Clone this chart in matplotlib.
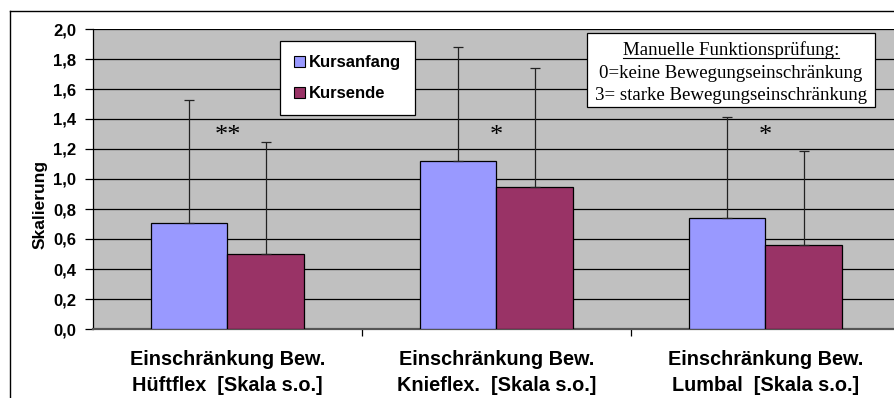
import matplotlib
matplotlib.use("Agg")
import matplotlib.pyplot as plt
from matplotlib.patches import Rectangle, Patch
from matplotlib.lines import Line2D
from matplotlib.ticker import FuncFormatter, MultipleLocator
import numpy as np

categories = [
    "Einschränkung Bew.\nHüftflex  [Skala s.o.]",
    "Einschränkung Bew.\nKnieflex.  [Skala s.o.]",
    "Einschränkung Bew.\nLumbal  [Skala s.o.]",
]
kursanfang = [0.71, 1.12, 0.74]
kursende = [0.50, 0.95, 0.56]
kursanfang_sd = [0.82, 0.76, 0.67]
kursende_sd = [0.75, 0.79, 0.63]
significance = ["**", "*", "*"]
significance_y = [1.29, 1.29, 1.29]
series_names = ["Kursanfang", "Kursende"]
note_lines = [
    "Manuelle Funktionsprüfung:",
    "0=keine Bewegungseinschränkung",
    "3= starke Bewegungseinschränkung",
]

W, H = 895, 398
fig = plt.figure(figsize=(W / 100, H / 100), dpi=100)
fig.patch.set_facecolor("white")

def fx(px):
    return px / W

def fy(py):
    return 1 - py / H

ax = fig.add_axes([fx(93), fy(329), fx(900) - fx(93), fy(29) - fy(329)])
ax.set_facecolor("#C0C0C0")

x = np.arange(len(categories))
bw = 0.286
blue = "#9999FF"
red = "#993366"

ax.bar(x - bw / 2, kursanfang, width=bw, color=blue, edgecolor="black", linewidth=0.9, zorder=3)
ax.bar(x + bw / 2, kursende, width=bw, color=red, edgecolor="black", linewidth=0.9, zorder=3)
err_kw = dict(fmt="none", ecolor="#222222", elinewidth=0.9, capsize=3.5, capthick=0.9, zorder=4)
ax.errorbar(x - bw / 2, kursanfang, yerr=[np.zeros(3), kursanfang_sd], **err_kw)
ax.errorbar(x + bw / 2, kursende, yerr=[np.zeros(3), kursende_sd], **err_kw)

for xi, s, sy in zip(x, significance, significance_y):
    ax.text(xi, sy, s, ha="center", va="center", fontsize=19,
            family="Liberation Serif", color="black", zorder=5)

ax.set_xlim(-0.5, 2.5)
ax.set_ylim(0, 2.0)
ax.yaxis.set_major_locator(MultipleLocator(0.2))
ax.yaxis.set_major_formatter(FuncFormatter(lambda v, p: f"{v:.1f}".replace(".", ",")))
ax.grid(axis="y", color="black", linewidth=0.9, zorder=1)
ax.set_axisbelow(True)

ax.set_xticks([0.5, 1.5])
ax.set_xticklabels([])
ax.tick_params(axis="x", direction="out", length=5, width=0.9, color="black")
ax.set_xticks(x, minor=True)
ax.set_xticklabels(categories, minor=True, fontsize=14.3, fontweight="bold",
                   family="Liberation Sans", linespacing=1.45)
ax.tick_params(axis="x", which="minor", length=0, pad=15)
ax.tick_params(axis="y", direction="out", length=6, width=0.9, pad=6)
for lab in ax.get_yticklabels():
    lab.set_fontsize(12)
    lab.set_fontweight("bold")
    lab.set_family("Liberation Sans")

for side in ("top", "right"):
    ax.spines[side].set_visible(False)
ax.spines["left"].set_color("black")
ax.spines["left"].set_linewidth(0.9)
ax.spines["bottom"].set_color("#555555")
ax.spines["bottom"].set_linewidth(1.6)

fig.text(fx(40), fy(204), "Skalierung", rotation=90, ha="center", va="center",
         fontsize=12.5, fontweight="bold", family="Liberation Sans")

# legend
handles = [Patch(facecolor=blue, edgecolor="black", linewidth=0.8),
           Patch(facecolor=red, edgecolor="black", linewidth=0.8)]
leg = fig.legend(handles, series_names, loc="upper left",
                 bbox_to_anchor=(fx(280), fy(41)), bbox_transform=fig.transFigure,
                 prop={"family": "Liberation Sans", "weight": "bold", "size": 12},
                 frameon=True, fancybox=False, shadow=False, framealpha=1,
                 edgecolor="black", handlelength=0.65, handleheight=0.65,
                 handletextpad=0.25, labelspacing=0.95, borderpad=0.85,
                 borderaxespad=0)
leg.get_frame().set_linewidth(0.9)

# scale note box
fig.patches.append(Rectangle((fx(587), fy(107)), fx(875) - fx(587), fy(33) - fy(107),
                             transform=fig.transFigure, facecolor="white",
                             edgecolor="black", linewidth=0.9, zorder=5))
note_y = [50, 73, 95]
texts = []
for line, py in zip(note_lines, note_y):
    t = fig.text(fx(731), fy(py), line, ha="center", va="center", fontsize=13.6,
                 family="Liberation Serif", zorder=6)
    texts.append(t)

fig.canvas.draw()
bb = texts[0].get_window_extent()
ul_y = fy(58)
fig.lines.append(Line2D([bb.x0 / W, bb.x1 / W], [ul_y, ul_y], transform=fig.transFigure,
                        color="black", linewidth=0.8, zorder=6))

# outer chart frame
fig.lines.append(Line2D([fx(10), fx(10)], [fy(11), 0], transform=fig.transFigure,
                        color="black", linewidth=1.0))
fig.lines.append(Line2D([fx(10), 1], [fy(11), fy(11)], transform=fig.transFigure,
                        color="black", linewidth=1.0))

fig.savefig("out.png", dpi=100)
